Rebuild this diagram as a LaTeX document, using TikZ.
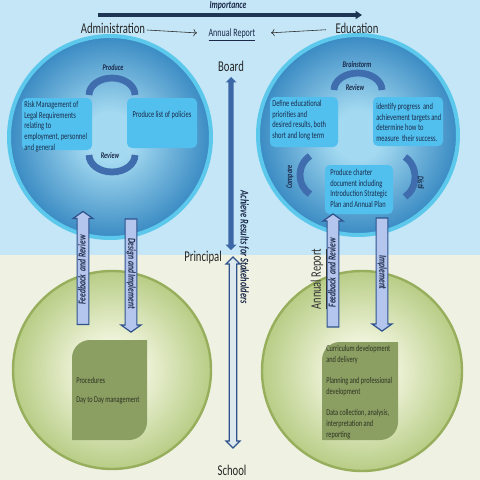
\documentclass[tikz,border=0pt]{standalone}
\usepackage{fontspec}
\setmainfont{Carlito}
\usetikzlibrary{arrows.meta,shapes.arrows}

\definecolor{skytop}{HTML}{C4E6F7}
\definecolor{paleground}{HTML}{EFF1E2}
\definecolor{ringcyan}{HTML}{5CC8EC}
\definecolor{discin}{HTML}{A4DAF1}
\definecolor{discout}{HTML}{3889C2}
\definecolor{boxblue}{HTML}{52C0EE}
\definecolor{bandblue}{HTML}{3F6DAD}
\definecolor{navy}{HTML}{1E3554}
\definecolor{textnavy}{HTML}{1B2A4A}
\definecolor{greenin}{HTML}{EEF3D9}
\definecolor{greenout}{HTML}{B8CD86}
\definecolor{greenrim}{HTML}{97AE5C}
\definecolor{olivebox}{HTML}{8B9F63}
\definecolor{textolive}{HTML}{2E3321}
\definecolor{arrowfill}{HTML}{B5C6EE}
\definecolor{arrowline}{HTML}{2F528C}
\definecolor{spineblue}{HTML}{3C67A6}
\definecolor{hollowfill}{HTML}{DDE8EE}

\pgfdeclareradialshading{bluedisc}{\pgfpoint{0bp}{0bp}}{color(0bp)=(discin); color(6bp)=(discin); color(25bp)=(discout); color(50bp)=(discout)}
\pgfdeclareradialshading{greendisc}{\pgfpoint{0bp}{0bp}}{color(0bp)=(greenin); color(8bp)=(greenin); color(25bp)=(greenout); color(50bp)=(greenout)}

\newcommand\bigfont{\fontsize{7.6}{9}\selectfont}
\newcommand\boxfont{\fontsize{4.6}{5.4}\selectfont}
\newcommand\greenfont{\fontsize{4.5}{5.6}\selectfont}
\newcommand\arcfont{\fontsize{4.4}{5}\selectfont\bfseries\itshape}
\newcommand\blockfont{\fontsize{5.4}{6}\selectfont\bfseries\itshape}

\tikzset{
  tall/.style={yscale=1.4},
  biglabel/.style={font=\bigfont, text=black!85, inner sep=1pt, tall},
  boxtext/.style={font=\boxfont, text=textnavy, align=left, inner sep=0pt, tall},
  greentext/.style={font=\greenfont, text=textolive, align=left, inner sep=0pt, tall},
  arclabel/.style={font=\arcfont, text=textnavy, inner sep=0pt},
  band/.style={draw=bandblue, line width=1.7mm},
  bluebox/.style={fill=boxblue, rounded corners=1.2mm},
  blockarrow/.style={single arrow, draw=arrowline, fill=arrowfill, line width=0.3mm,
    font=\blockfont, text=textnavy, text height=3.6pt, text depth=0.9pt,
    inner ysep=0.3pt, inner xsep=2pt, single arrow head extend=0.72mm, minimum height=28.25mm},
  spine/.style={double arrow, rotate=90, fill=spineblue, inner xsep=0pt, inner ysep=0.6mm,
    double arrow head extend=0.7mm, minimum height=43.25mm},
  hollowspine/.style={double arrow, rotate=90, fill=hollowfill, draw=arrowline, line width=0.3mm,
    inner xsep=0pt, inner ysep=0.8mm, double arrow head extend=0.8mm, minimum height=47.75mm},
  thinarrow/.style={->, thin, black!85},
  importance/.style={navy, line width=0.9mm, -{Triangle[length=1.6mm, width=2mm]}}
}

\begin{document}
\begin{tikzpicture}[x=0.25mm, y=-0.25mm]
  \useasboundingbox (0,0) rectangle (480,480);
  % backdrop
  \fill[skytop] (0,0) rectangle (480,255);
  \fill[paleground] (0,255) rectangle (480,480);

  % discs
  \shade[shading=bluedisc] (110,137) circle (102);
  \draw[ringcyan, line width=1mm] (110,137) circle (101);
  \shade[shading=bluedisc] (358,135) circle (101);
  \draw[ringcyan, line width=1mm] (358,135) circle (100);
  \shade[shading=greendisc] (112,370) circle (99);
  \draw[greenrim, line width=0.6mm] (112,370) circle (99);
  \shade[shading=greendisc] (362,371) circle (100);
  \draw[greenrim, line width=0.6mm] (362,371) circle (100);

  % administration cycle
  \fill[bluebox] (22,98) rectangle (92,150);
  \fill[bluebox] (127,98) rectangle (197,148);
  \draw[band] (89,95) arc (180:360:23 and 17);
  \draw[band] (89,155) arc (180:0:23 and 17);
  \node[boxtext, anchor=north west] (risk) at (24,101)
    {Risk Management of\\Legal Requirements\\relating to\\employment, personnel\\and general};
  \node[boxtext] (policies) at (162,115) {Produce list of policies};
  \node[arclabel, tall] (produce) at (113,67) {Produce};
  \node[arclabel, tall] (review1) at (110,155) {Review};

  % education cycle
  \fill[bluebox] (270,97) rectangle (338,147);
  \fill[bluebox] (373,97) rectangle (443,146);
  \fill[bluebox] (325,165) rectangle (393,214);
  \draw[band] (334,90) arc (180:360:24 and 17);
  \draw[band] (310,156) arc (240:120:20 and 22);
  \draw[band] (405,157) arc (-60:60:20 and 23);
  \node[boxtext, anchor=north west] (define) at (272,100)
    {Define educational\\priorities and\\desired results, both\\short and long term};
  \node[boxtext, anchor=north west] (identify) at (376,103)
    {identify progress\ \ and\\achievement targets and\\determine how to\\measure\ \ their success.};
  \node[boxtext, anchor=north west] (charter) at (330,169)
    {Produce charter\\document including\\Introduction Strategic\\Plan and Annual Plan};
  \node[arclabel, tall] (brainstorm) at (357,64) {Brainstorm};
  \node[arclabel, tall] (review2) at (355,87) {Review};
  \node[arclabel, rotate=90, tall] (compare) at (290,177) {Compare};
  \node[arclabel, rotate=-90, tall] (distil) at (421,183) {Distil};

  % school level
  \fill[olivebox] (72,440) -- (72,358) arc (180:270:18) -- (147,340) -- (147,422) arc (0:90:18) -- cycle;
  \fill[olivebox] (322,440) -- (322,360) arc (180:270:18) -- (398,342) -- (398,422) arc (0:90:18) -- cycle;
  \node[greentext, anchor=west] (procedures) at (76,380) {Procedures};
  \node[greentext, anchor=west] (dayday) at (76,400) {Day to Day management};
  \node[greentext, anchor=north west] (curriculum) at (326,345) {Curriculum development\\and delivery};
  \node[greentext, anchor=north west] (planning) at (326,377) {Planning and professional\\development};
  \node[greentext, anchor=north west] (datacoll) at (326,409) {Data collection, analysis,\\interpretation and\\reporting};

  % block arrows between levels
  \node[blockarrow, rotate=90, tall] (feedback1) at (83,270) {Feedback\ \ and Review};
  \node[blockarrow, rotate=-90, tall] (design) at (131,273.5) {Design and Implement};
  \node[blockarrow, rotate=90, tall] (feedback2) at (333,272.5) {Feedback\ \ and Review};
  \node[blockarrow, rotate=-90, tall] (implement) at (382,272.5) {Implement};
  \node[font=\fontsize{7.4}{8}\selectfont, text=black!80, rotate=90, inner sep=0pt, tall] (report2) at (319,279) {\underline{Annual Report}};

  % central axis
  \node[biglabel] (board) at (231,66) {Board};
  \node[biglabel] (principal) at (203,258) {Principal};
  \node[biglabel] (school) at (232,470) {School};
  \node[spine] (results) at (231,163.5) {};
  \node[hollowspine] (delivery) at (233,352.5) {};
  \node[font=\fontsize{6}{7}\selectfont\bfseries\itshape, text=textnavy, rotate=-90, inner sep=0pt, tall] (achieve) at (244,247) {Achieve Results for Stakeholders};

  % top labels
  \node[biglabel] (admin) at (113,28) {Administration};
  \node[biglabel] (edu) at (357,28) {Education};
  \node[font=\fontsize{5.7}{7}\selectfont, text=textnavy, inner sep=1pt, tall] (report) at (232,35) {\underline{Annual Report}};
  \node[font=\fontsize{5.5}{6}\selectfont\bfseries\itshape, text=textnavy, inner sep=0pt, tall] (imp) at (228,8) {\underline{Importance}};
  \coordinate (imp-l) at (98,15);
  \coordinate (imp-r) at (362,15);
  \draw[importance] (imp-l) -- (imp-r);
  \draw[thinarrow, shorten >=2.5mm] (admin) -- (report);
  \draw[thinarrow, shorten >=3.5mm, shorten <=2mm] (edu) -- (report);
\end{tikzpicture}
\end{document}
